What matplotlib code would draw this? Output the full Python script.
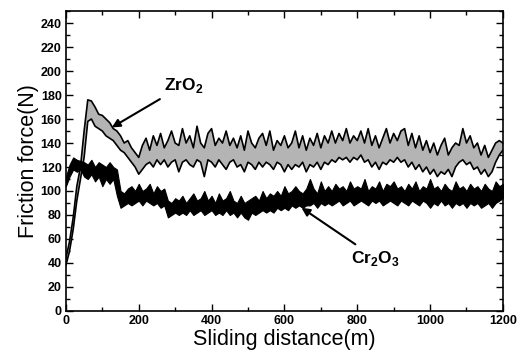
import numpy as np
import matplotlib
matplotlib.use('Agg')
import matplotlib.pyplot as plt
from matplotlib.ticker import MultipleLocator

# sliding distance grid (m), one sample every 10 m
distance = np.arange(0, 1201, 10)

# ZrO2 friction band (N): lower and upper edge
zro2_low = [38, 50, 68, 92, 110, 128, 158, 160, 154, 152,
            150, 146, 144, 142, 138, 134, 132, 128, 124, 120,
            114, 118, 122, 124, 120, 126, 122, 126, 120, 124,
            126, 116, 124, 126, 122, 120, 126, 124, 112, 126,
            124, 120, 126, 122, 118, 124, 126, 120, 122, 116,
            124, 122, 118, 124, 120, 124, 122, 118, 124, 122,
            116, 122, 118, 122, 120, 124, 116, 122, 120, 124,
            118, 124, 122, 126, 124, 128, 126, 128, 124, 128,
            126, 130, 124, 126, 120, 124, 118, 124, 122, 126,
            124, 128, 124, 126, 120, 124, 118, 122, 116, 120,
            114, 118, 112, 116, 114, 118, 112, 120, 124, 126,
            122, 124, 118, 120, 114, 118, 112, 116, 124, 130,
            134]
zro2_high = [44, 58, 78, 104, 120, 150, 176, 175, 170, 164,
             163, 160, 157, 152, 150, 146, 140, 142, 136, 132,
             128, 138, 144, 134, 146, 138, 148, 136, 142, 150,
             140, 138, 152, 140, 146, 136, 154, 140, 136, 148,
             152, 138, 144, 140, 150, 138, 144, 136, 146, 134,
             150, 140, 136, 144, 148, 138, 150, 134, 142, 138,
             146, 136, 140, 150, 136, 146, 134, 144, 138, 148,
             136, 146, 140, 150, 140, 148, 142, 152, 140, 146,
             142, 150, 140, 152, 138, 146, 136, 144, 152, 140,
             148, 142, 150, 152, 138, 148, 136, 146, 134, 142,
             132, 140, 130, 138, 144, 130, 136, 140, 138, 152,
             140, 146, 136, 140, 130, 138, 128, 134, 140, 142,
             140]

# Cr2O3 friction band (N): lower and upper edge
cr2o3_low = [104, 112, 118, 116, 118, 112, 110, 114, 108, 112,
             104, 110, 106, 110, 96, 86, 88, 90, 88, 90,
             92, 88, 92, 90, 88, 90, 86, 88, 78, 80,
             82, 80, 82, 80, 84, 80, 82, 84, 80, 82,
             84, 80, 82, 80, 84, 80, 82, 78, 82, 78,
             76, 82, 80, 82, 84, 82, 84, 82, 86, 84,
             86, 84, 88, 86, 88, 86, 88, 88, 90, 86,
             90, 88, 90, 88, 90, 92, 88, 90, 92, 88,
             90, 92, 90, 88, 92, 90, 92, 88, 90, 92,
             90, 88, 92, 90, 88, 92, 90, 88, 92, 90,
             86, 90, 88, 92, 88, 90, 86, 90, 88, 90,
             86, 90, 88, 90, 86, 88, 90, 86, 90, 92,
             94]
cr2o3_high = [112, 122, 128, 126, 125, 124, 122, 126, 120, 124,
              122, 120, 124, 120, 118, 100, 98, 102, 104, 100,
              106, 100, 102, 106, 98, 104, 100, 102, 92, 90,
              94, 92, 96, 90, 94, 98, 92, 94, 100, 92,
              96, 90, 98, 92, 94, 100, 92, 90, 96, 90,
              92, 94, 96, 92, 100, 94, 98, 96, 100, 96,
              104, 98, 100, 104, 100, 98, 102, 110, 102, 98,
              108, 100, 104, 100, 106, 102, 104, 100, 108, 102,
              104, 102, 110, 100, 104, 102, 108, 100, 106, 104,
              108, 102, 104, 100, 106, 102, 108, 100, 104, 102,
              110, 102, 104, 100, 106, 102, 100, 108, 102, 104,
              100, 106, 102, 104, 100, 106, 102, 100, 108, 104,
              106]

plt.rcParams['font.family'] = ['Liberation Sans', 'DejaVu Sans']
plt.rcParams['mathtext.fontset'] = 'custom'
plt.rcParams['mathtext.bf'] = 'Liberation Sans:bold'
plt.rcParams['mathtext.rm'] = 'Liberation Sans:bold'

fig = plt.figure(figsize=(5.19, 3.57), dpi=100)
ax = fig.add_axes([0.127, 0.129, 0.842, 0.840])

# gray band with black outline for ZrO2
ax.fill_between(distance, zro2_low, zro2_high, facecolor='#b4b4b4',
                edgecolor='none', zorder=2)
ax.plot(distance, zro2_low, color='black', lw=1.2, zorder=3)
ax.plot(distance, zro2_high, color='black', lw=1.2, zorder=3)

# solid black band for Cr2O3
ax.fill_between(distance, cr2o3_low, cr2o3_high, facecolor='black',
                edgecolor='black', lw=0.8, zorder=4)

ax.set_xlim(0, 1200)
ax.set_ylim(0, 250)
ax.xaxis.set_major_locator(MultipleLocator(200))
ax.xaxis.set_minor_locator(MultipleLocator(100))
ax.yaxis.set_major_locator(MultipleLocator(20))
ax.yaxis.set_minor_locator(MultipleLocator(10))
ax.tick_params(which='both', direction='in', top=True, right=True, width=1.0)
ax.tick_params(which='major', length=5, labelsize=9, pad=3)
ax.tick_params(which='minor', length=3)
for lab in ax.get_xticklabels() + ax.get_yticklabels():
    lab.set_fontweight('bold')
for sp in ax.spines.values():
    sp.set_linewidth(1.2)

ax.set_xlabel('Sliding distance(m)', fontsize=15.5, labelpad=1)
ax.set_ylabel('Friction force(N)', fontsize=15.5, labelpad=1)

# labels with arrows
ax.annotate('ZrO$_2$', xy=(126, 153), xytext=(268, 188),
            fontsize=12.5, fontweight='bold', va='center', ha='left',
            arrowprops=dict(arrowstyle='-|>', color='black', lw=1.5,
                            shrinkA=2, shrinkB=0, mutation_scale=12),
            zorder=6)
ax.annotate('Cr$_2$O$_3$', xy=(647, 86), xytext=(784, 44),
            fontsize=12.5, fontweight='bold', va='center', ha='left',
            arrowprops=dict(arrowstyle='-|>', color='black', lw=1.5,
                            shrinkA=2, shrinkB=0, mutation_scale=12),
            zorder=6)

plt.savefig('out.png', dpi=100)
